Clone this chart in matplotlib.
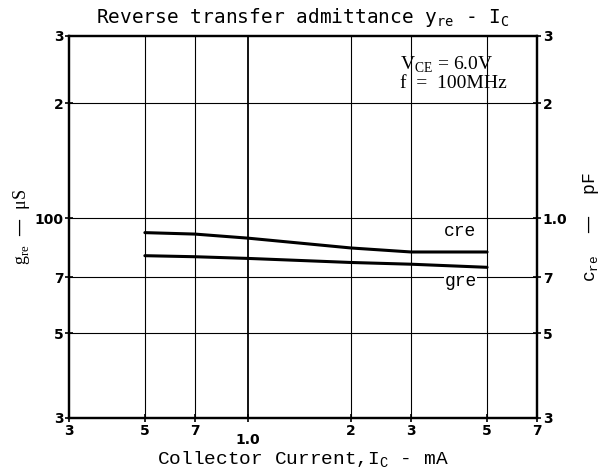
import matplotlib
matplotlib.use('Agg')
import matplotlib.pyplot as plt
from matplotlib.ticker import NullLocator

# collector current, mA
ic = [0.5, 0.7, 1.0, 2.0, 3.0, 5.0]
# reverse transfer capacitance, pF (right axis)
cre = [0.917, 0.909, 0.887, 0.836, 0.816, 0.816]
# reverse transfer conductance, uS (left axis)
gre = [79.8, 79.3, 78.5, 76.6, 75.8, 74.4]

x_ticks = [0.3, 0.5, 0.7, 1.0, 2, 3, 5, 7]
x_labels = ['3', '5', '7', '1.0', '2', '3', '5', '7']
y_ticks = [30, 50, 70, 100, 200, 300]
y_labels = ['3', '5', '7', '100', '2', '3']
y2_ticks = [0.3, 0.5, 0.7, 1.0, 2, 3]
y2_labels = ['3', '5', '7', '1.0', '2', '3']

MONO = 'Liberation Mono'
TICK_FONT = dict(family='DejaVu Sans', weight='bold', size=10)

fig = plt.figure(figsize=(6.04, 4.73), dpi=100)
ax = fig.add_axes([0.1142, 0.1163, 0.775, 0.8076])
ax.set_xscale('log')
ax.set_yscale('log')
ax.set_xlim(0.3, 7)
ax.set_ylim(30, 300)

# grid lines at the inner ticks
for xv in x_ticks[1:-1]:
    ax.axvline(xv, color='black', lw=1.3 if xv == 1.0 else 0.8, zorder=1)
for yv in y_ticks[1:-1]:
    ax.axhline(yv, color='black', lw=0.8, zorder=1)

ax.plot(ic, gre, color='black', lw=2.2, solid_capstyle='round', zorder=3)
ax2 = ax.twinx()
ax2.set_yscale('log')
ax2.set_ylim(0.3, 3)
ax2.plot(ic, cre, color='black', lw=2.2, solid_capstyle='round', zorder=3)

for a in (ax, ax2):
    for s in a.spines.values():
        s.set_linewidth(1.6)
    a.xaxis.set_minor_locator(NullLocator())
    a.yaxis.set_minor_locator(NullLocator())

ax.set_xticks(x_ticks)
ax.set_xticklabels(x_labels, **TICK_FONT)
ax.set_yticks(y_ticks)
ax.set_yticklabels(y_labels, **TICK_FONT)
ax2.set_yticks(y2_ticks)
ax2.set_yticklabels(y2_labels, **TICK_FONT)
ax.tick_params(axis='x', direction='inout', length=6, width=1.2, pad=1)
ax.tick_params(axis='y', direction='inout', length=6, width=1.2, pad=1)
ax2.tick_params(axis='y', direction='inout', length=6, width=1.2, pad=1)
for lbl in ax.get_xticklabels():
    if lbl.get_text() == '1.0':
        lbl.set_y(-0.025)

ax.set_title(r'Reverse transfer admittance y$_{\mathregular{re}}$ - I$_{\mathregular{C}}$',
             family='DejaVu Sans Mono', fontsize=14, pad=9)
ax.set_xlabel(r'Collector Current,I$_{\mathregular{C}}$ - mA', family=MONO, fontsize=14, labelpad=2)
ax.set_ylabel(r'g$_{\mathregular{re}}$  —  $\mathregular{\mu}$S', family='Liberation Serif', fontsize=13, labelpad=2)
ax2.set_ylabel(r'c$_{\mathregular{re}}$  —  pF', family=MONO, fontsize=13, rotation=90, labelpad=10)

ax2.text(3.75, 0.925, 'cre', family=MONO, fontsize=13, ha='left', va='center', zorder=4)
ax.text(3.75, 68.5, 'gre', family=MONO, fontsize=13, ha='left', va='center', zorder=4,
        bbox=dict(facecolor='white', edgecolor='none', pad=0.3))

ax.text(0.707, 0.902, 'V$_{\\mathregular{CE}}$ = 6.0V\nf  =  100MHz', transform=ax.transAxes,
        family='Liberation Serif', fontsize=14, ha='left', va='center', linespacing=1.0)

fig.savefig('out.png', dpi=100)
